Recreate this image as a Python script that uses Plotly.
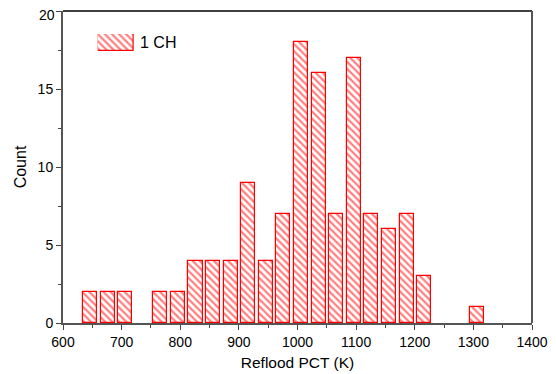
import plotly.graph_objects as go

bin_centers = [646, 676, 706, 736, 766, 796, 826, 856, 886, 916, 946, 976,
               1006, 1036, 1066, 1096, 1126, 1156, 1186, 1216, 1246, 1276, 1306]
counts = [2, 2, 2, 0, 2, 2, 4, 4, 4, 9, 4, 7,
          18, 16, 7, 17, 7, 6, 7, 3, 0, 0, 1]
series_name = "1 CH"
x_ticks = [600, 700, 800, 900, 1000, 1100, 1200, 1300, 1400]
y_ticks = [0, 5, 10, 15, 20]

RED = "#ff0000"
FONT = "Liberation Sans, Arial, sans-serif"
pattern = dict(shape="\\", fgcolor=RED, bgcolor="white", size=5, solidity=0.45)

# empty bins are not drawn
shown_counts = [c if c > 0 else None for c in counts]

fig = go.Figure()
fig.add_trace(go.Bar(
    x=bin_centers, y=shown_counts, width=24,
    marker=dict(color="white", pattern=pattern, line=dict(color=RED, width=1.2)),
    showlegend=False, name=series_name,
))
# legend swatch (drawn as a small bar on its own hidden axes)
fig.add_trace(go.Bar(
    x=[0], y=[1], width=1, xaxis="x2", yaxis="y2",
    marker=dict(color="white", pattern=pattern, line=dict(color=RED, width=1.2)),
    showlegend=False, hoverinfo="skip",
))

# page has an 8px body margin; compensate so the figure fills the window
OFF = 8
W, H = 556 - OFF, 374 - OFF
L, R, T, B = 63 - OFF, 24, 11 - OFF, 51
PW, PH = W - L - R, H - T - B


def px_x(px):
    return (px - OFF - L) / PW


def px_y(py):
    return (H - B - (py - OFF)) / PH


# the top tick label would be clipped by the page edge: draw it as an
# annotation nudged slightly down instead
y_ticktext = [str(v) for v in y_ticks[:-1]] + [""]

fig.update_layout(
    width=W, height=H,
    margin=dict(l=L, r=R, t=T, b=B, autoexpand=False),
    plot_bgcolor="white", paper_bgcolor="white",
    font=dict(family=FONT, size=14, color="black"),
    bargap=0,
    xaxis=dict(
        range=[600, 1400], tickvals=x_ticks, ticks="outside", ticklen=5,
        tickcolor="#444", showgrid=False, zeroline=False, automargin=False,
        showline=True, linecolor="#555", linewidth=2, mirror=False,
        ticklabeloverflow="allow",
        minor=dict(dtick=50, tick0=600, ticks="outside", ticklen=3, tickcolor="#444"),
        title=dict(text="Reflood PCT (K)", standoff=8, font=dict(size=15.5)),
        tickfont=dict(size=14),
    ),
    yaxis=dict(
        range=[0, 20], tickvals=y_ticks, ticktext=y_ticktext,
        ticks="outside", ticklen=5,
        tickcolor="#444", showgrid=False, zeroline=False, automargin=False,
        showline=True, linecolor="#555", linewidth=2, mirror=False,
        ticklabeloverflow="allow",
        minor=dict(dtick=2.5, tick0=0, ticks="outside", ticklen=3, tickcolor="#444"),
        title=dict(text="Count", standoff=7, font=dict(size=16)),
        tickfont=dict(size=14),
    ),
    xaxis2=dict(domain=[px_x(97.7), px_x(134)],
                range=[-0.5, 0.5], visible=False, anchor="y2", fixedrange=True,
                automargin=False),
    yaxis2=dict(domain=[px_y(51), px_y(34)],
                range=[0, 1], visible=False, anchor="x2", fixedrange=True,
                automargin=False),
    shapes=[
        dict(type="line", xref="paper", yref="paper", x0=0, x1=1, y0=1, y1=1,
             line=dict(color="black", width=1.5)),
        dict(type="line", xref="paper", yref="paper", x0=1, x1=1, y0=0, y1=1,
             line=dict(color="#555", width=2)),
    ],
    annotations=[
        dict(text=series_name, xref="paper", yref="paper",
             x=px_x(138), y=px_y(43),
             xanchor="left", yanchor="middle", showarrow=False,
             font=dict(size=16, family=FONT)),
        dict(text=str(y_ticks[-1]), xref="paper", yref="y",
             x=0, y=y_ticks[-1], xanchor="right", yanchor="middle",
             xshift=-6, yshift=-4, showarrow=False,
             font=dict(size=14, family=FONT)),
    ],
)
fig.write_html("out.html")
